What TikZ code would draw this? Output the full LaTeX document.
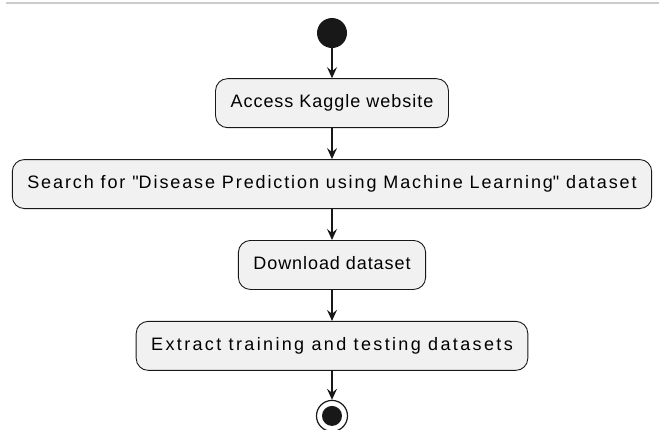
\documentclass[tikz,border=0pt]{standalone}
\usepackage{fontspec}
\setmainfont{Liberation Sans}
\usetikzlibrary{arrows.meta, positioning}

\definecolor{ink}{HTML}{181818}
\definecolor{boxfill}{HTML}{F1F1F1}
\definecolor{rule}{HTML}{CCCCCC}

\begin{document}
\begin{tikzpicture}[x=1pt, y=1pt,
        activity/.style={rectangle, rounded corners=12pt, draw=ink, line width=0.9pt, fill=boxfill,
            minimum height=49pt, inner xsep=15pt, text height=13pt, text depth=4pt,
            font={\fontsize{18}{20}\selectfont\addfontfeatures{LetterSpace=#1}}},
        activity/.default=5,
        startdot/.style={circle, fill=ink, minimum size=30pt, inner sep=0pt},
        enddot/.style={circle, draw=ink, line width=1.2pt, fill=white, minimum size=31pt, inner sep=0pt},
        flow/.style={-{Stealth[length=11pt, width=10pt, inset=4pt]}, line width=1.2pt, ink}
    ]
    \useasboundingbox (0,0) rectangle (659,-429);
    % top rule
    \draw[rule, line width=2pt] (6,-3) -- (659,-3);
    % Start
    \node[startdot] (start) at (332,-33) {};
    % Activities
    \node[activity=5.5, below=30pt of start] (access) {Access Kaggle website};
    \node[activity=10.5, below=31pt of access] (search) {Search for \textquotedbl Disease Prediction using Machine Learning\textquotedbl{} dataset};
    \node[activity=5.2, below=31pt of search] (download) {Download dataset};
    \node[activity=13.1, below=31pt of download] (extract) {Extract training and testing datasets};
    % End
    \node[enddot, below=29pt of extract] (stop) {};
    \fill[ink] (stop.center) circle (10pt);
    % Connections
    \draw[flow] (start) -- (access);
    \draw[flow] (access) -- (search);
    \draw[flow] (search) -- (download);
    \draw[flow] (download) -- (extract);
    \draw[flow] (extract) -- (stop);
\end{tikzpicture}
\end{document}
